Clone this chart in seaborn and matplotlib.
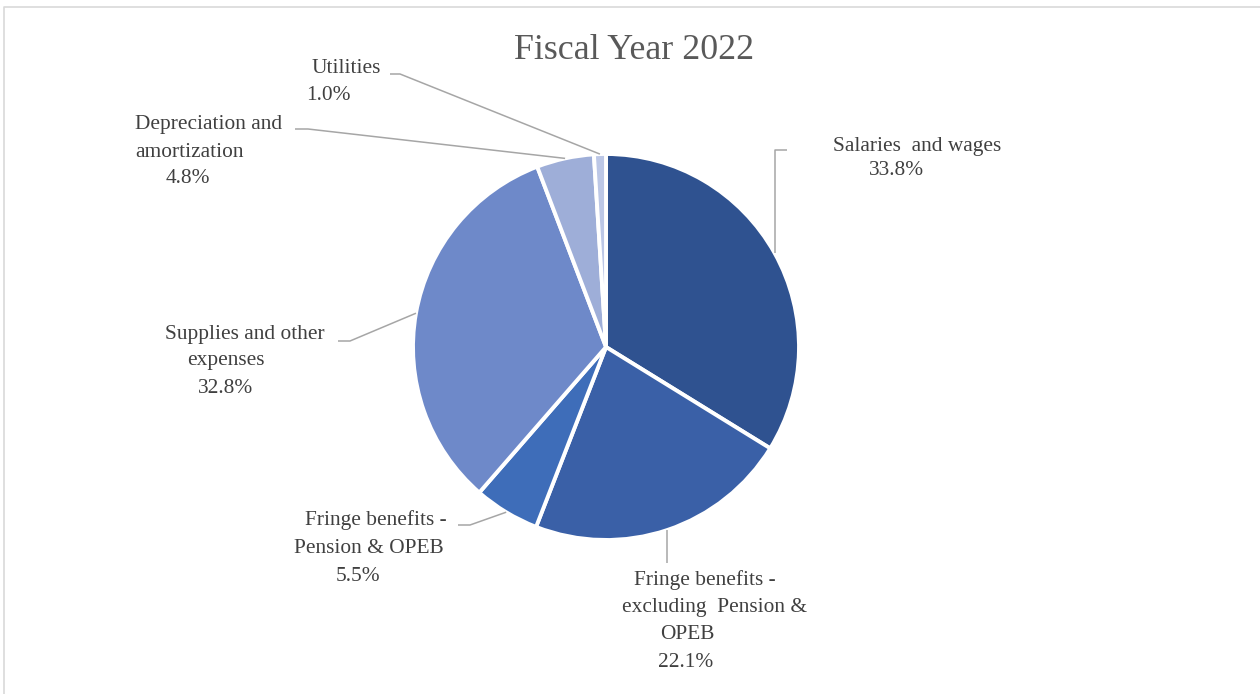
import numpy as np
import matplotlib
matplotlib.use("Agg")
import matplotlib.pyplot as plt
import seaborn as sns

# Expense categories (clockwise from 12 o'clock) and their shares in percent
categories = [
    "Salaries and wages",
    "Fringe benefits - excluding Pension & OPEB",
    "Fringe benefits - Pension & OPEB",
    "Supplies and other expenses",
    "Depreciation and amortization",
    "Utilities",
]
shares = [33.8, 22.1, 5.5, 32.8, 4.8, 1.0]
slice_colors = ["#2F5290", "#3A60A7", "#3E6DB9", "#6E89C9", "#9EAED8", "#BCC7E6"]

# Label text lines for each slice (name lines, then the percent)
label_lines = [
    ["Salaries  and wages"],
    ["Fringe benefits -", "excluding  Pension &", "OPEB"],
    ["Fringe benefits -", "Pension & OPEB"],
    ["Supplies and other", "expenses"],
    ["Depreciation and", "amortization"],
    ["Utilities"],
]
title = "Fiscal Year 2022"

sns.set_theme(style="white")
plt.rcParams["font.family"] = ["Liberation Serif", "DejaVu Serif"]

W, H = 1260, 694
fig = plt.figure(figsize=(W / 100, H / 100), dpi=100)
fig.patch.set_facecolor("white")
ax = fig.add_axes([0, 0, 1, 1])

# Pie laid out in pixel units (y measured upward)
cx, cy, r = 606, H - 347, 193
palette = sns.color_palette(slice_colors)
wedges, _ = ax.pie(
    shares,
    colors=palette,
    startangle=90,
    counterclock=False,
    center=(cx, cy),
    radius=r,
    wedgeprops=dict(edgecolor="white", linewidth=2.8),
)
ax.set_xlim(0, W)
ax.set_ylim(0, H)
ax.set_aspect("auto")
ax.axis("off")

# Outer chart frame (left and top edges visible)
ax.plot([4, 4, W + 5], [-5, H - 7, H - 7], color="#D9D9D9", lw=1.2, clip_on=False)

ax.text(634, H - 59, title, ha="center", va="baseline", fontsize=25.8, color="#595959")

# Label layout: per-line (x center, baseline y) in pixels from the top
line_pos = [
    [(917, 151), (897, 175)],
    [(705, 585), (715, 612), (687, 639), (686, 667)],
    [(376, 525), (369, 553), (358, 581)],
    [(245, 339), (226, 365), (226, 393)],
    [(209, 129), (190, 157), (188, 183)],
    [(346, 73), (328, 100)],
]

# Leader line bends in pixels from the top
leaders = [
    ("vert", 150, 12),
    ("vert", 563, 0),
    ((470, 525), (458, 525)),
    ((350, 341), (338, 341)),
    ((308, 129), (295, 129)),
    ((400, 74), (390, 74)),
]

fracs = np.array(shares) / sum(shares)
starts = np.concatenate([[0], np.cumsum(fracs)[:-1]])
for i, (lines, pos) in enumerate(zip(label_lines, line_pos)):
    texts = lines + [f"{shares[i]:.1f}%"]
    for t, (x, y) in zip(texts, pos):
        ax.text(x, H - y, t, ha="center", va="baseline", fontsize=15.4, color="#404040")

    mid = 2 * np.pi * (starts[i] + fracs[i] / 2)
    ex = cx + r * np.sin(mid)
    ey = cy + r * np.cos(mid)
    ld = leaders[i]
    if ld[0] == "vert":
        y_top = H - ld[1]
        xs = [ex, ex]
        ys = [ey, y_top]
        if ld[2]:
            xs.append(ex + ld[2])
            ys.append(y_top)
    else:
        (bx, by), (ox, oy) = ld
        xs = [ex, bx, ox]
        ys = [ey, H - by, H - oy]
    ax.plot(xs, ys, color="#A6A6A6", lw=1.1, solid_capstyle="butt")

fig.savefig("out.png", dpi=100, facecolor="white")
